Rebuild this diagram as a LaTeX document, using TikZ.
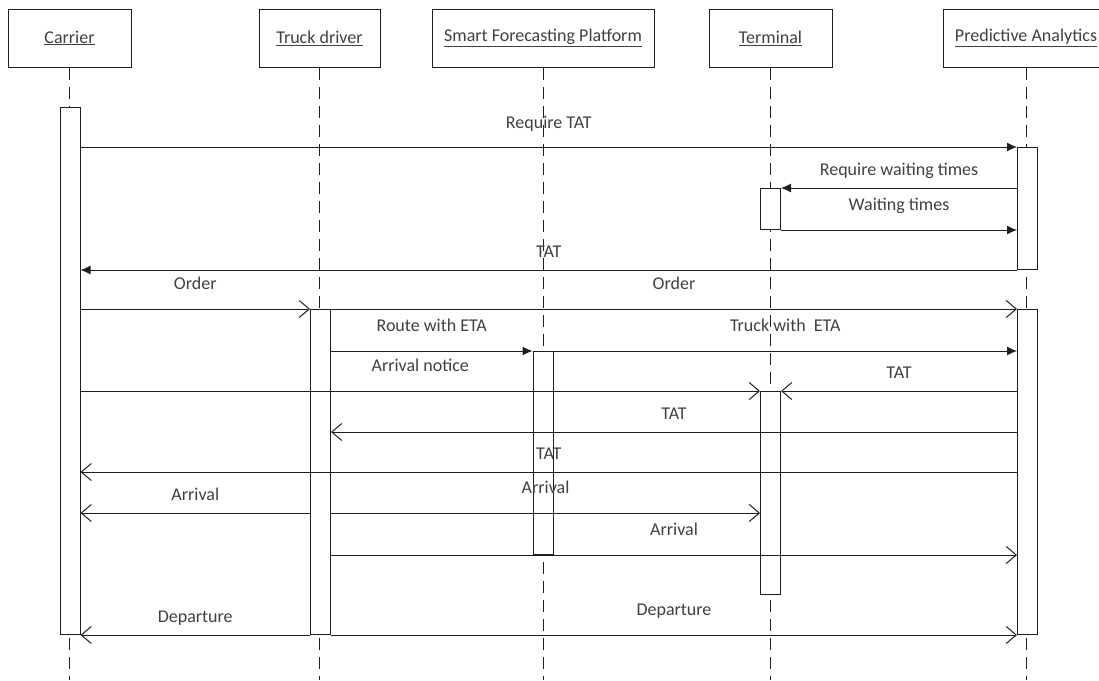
\documentclass[tikz,border=0pt]{standalone}
\usepackage{fontspec}
\setmainfont{Carlito}
\usetikzlibrary{arrows.meta}
\definecolor{txtgray}{HTML}{404040}
\definecolor{linegray}{HTML}{1E1E1E}
\tikzset{
  head/.style={draw=linegray, minimum height=58pt, text=txtgray,
    font=\fontsize{18pt}{21pt}\selectfont},
  life/.style={draw=linegray, dash pattern=on 12pt off 7pt},
  bar/.style={draw=linegray, fill=white, minimum width=20pt, anchor=north, inner sep=0pt},
  call/.style={draw=linegray, -{Latex[length=10pt,width=9pt]}},
  send/.style={draw=linegray, -{Straight Barb[length=10pt,width=17pt]}},
  lbl/.style={text=txtgray, font=\fontsize{18pt}{21pt}\selectfont,
    text height=12pt, text depth=4pt, inner sep=0pt, midway},
  lo/.style={lbl, yshift=17pt},
  hi/.style={lbl, yshift=24pt}
}
\begin{document}
\begin{tikzpicture}[x=1pt, y=-1pt, line width=1pt]
  \useasboundingbox (0,0) rectangle (1099,680);
  \clip (0,0) rectangle (1099,680);
  % lifeline heads
  \node[head, minimum width=123pt] (car) at (69.5,38)  {\underline{Carrier}};
  \node[head, minimum width=121pt] (drv) at (319.5,38) {\underline{Truck driver}};
  \node[head, minimum width=222pt] (sfp) at (543,38)   {\underline{Smart Forecasting Platform}};
  \node[head, minimum width=123pt] (ter) at (770.5,38) {\underline{Terminal}};
  \node[head, minimum width=166pt] (pa)  at (1026,38)  {\underline{Predictive Analytics}};
  \foreach \n in {car, drv, sfp, ter, pa}
    \draw[life] (\n.south) -- (\n.south |- 0,680);
  % activations
  \node[bar, minimum height=527pt] (carA) at (70,107) {};
  \node[bar, minimum height=325pt] (drvA) at (320.5,309) {};
  \node[bar, minimum height=203pt] (sfpA) at (543,351) {};
  \node[bar, minimum height=41pt]  (terA) at (770.5,188) {};
  \node[bar, minimum height=203pt] (terB) at (770.5,391) {};
  \node[bar, minimum height=122pt] (paA)  at (1027.5,147) {};
  \node[bar, minimum height=325pt] (paB)  at (1027.5,309) {};
  % messages
  \draw[call] (carA.east |- paA.north) -- node[hi, yshift=-1pt] {Require TAT} (paA.north west);
  \draw[call] (paA.west |- terA.north) -- node[lo] {Require waiting times} (terA.north east);
  \draw[call] (terA.south east) -- node[hi] {Waiting times} (paA.west |- terA.south);
  \draw[call] (paA.south west) -- node[lo] {TAT} (carA.east |- paA.south);
  \draw[send] (carA.east |- drvA.north) -- node[hi] {Order} (drvA.north west);
  \draw[send] (drvA.north east) -- node[hi] {Order} (paB.north west);
  \draw[call] (drvA.east |- sfpA.north) -- node[hi] {Route with ETA} (sfpA.north west);
  \draw[call] (sfpA.north east) -- node[hi] {Truck with \ ETA} (paB.west |- sfpA.north);
  \draw[send] (carA.east |- terB.north) -- node[hi] {Arrival notice} (terB.north west);
  \draw[send] (paB.west |- terB.north) -- node[lo] {TAT} (terB.north east);
  \draw[send] (paB.west |- 0,432) -- node[lo] {TAT} (drvA.east |- 0,432);
  \draw[send] (paB.west |- 0,472) -- node[lo] {TAT} (carA.east |- 0,472);
  \draw[send] (drvA.west |- 0,513) -- node[lo] {Arrival} (carA.east |- 0,513);
  \draw[send] (drvA.east |- 0,513) -- node[hi] {Arrival} (terB.west |- 0,513);
  \draw[send] (drvA.east |- sfpA.south) -- node[hi] {Arrival} (paB.west |- sfpA.south);
  \draw[send] (drvA.south west) -- node[lo] {Departure} (carA.east |- drvA.south);
  \draw[send] (drvA.south east) -- node[hi] {Departure} (paB.south west);
\end{tikzpicture}
\end{document}
